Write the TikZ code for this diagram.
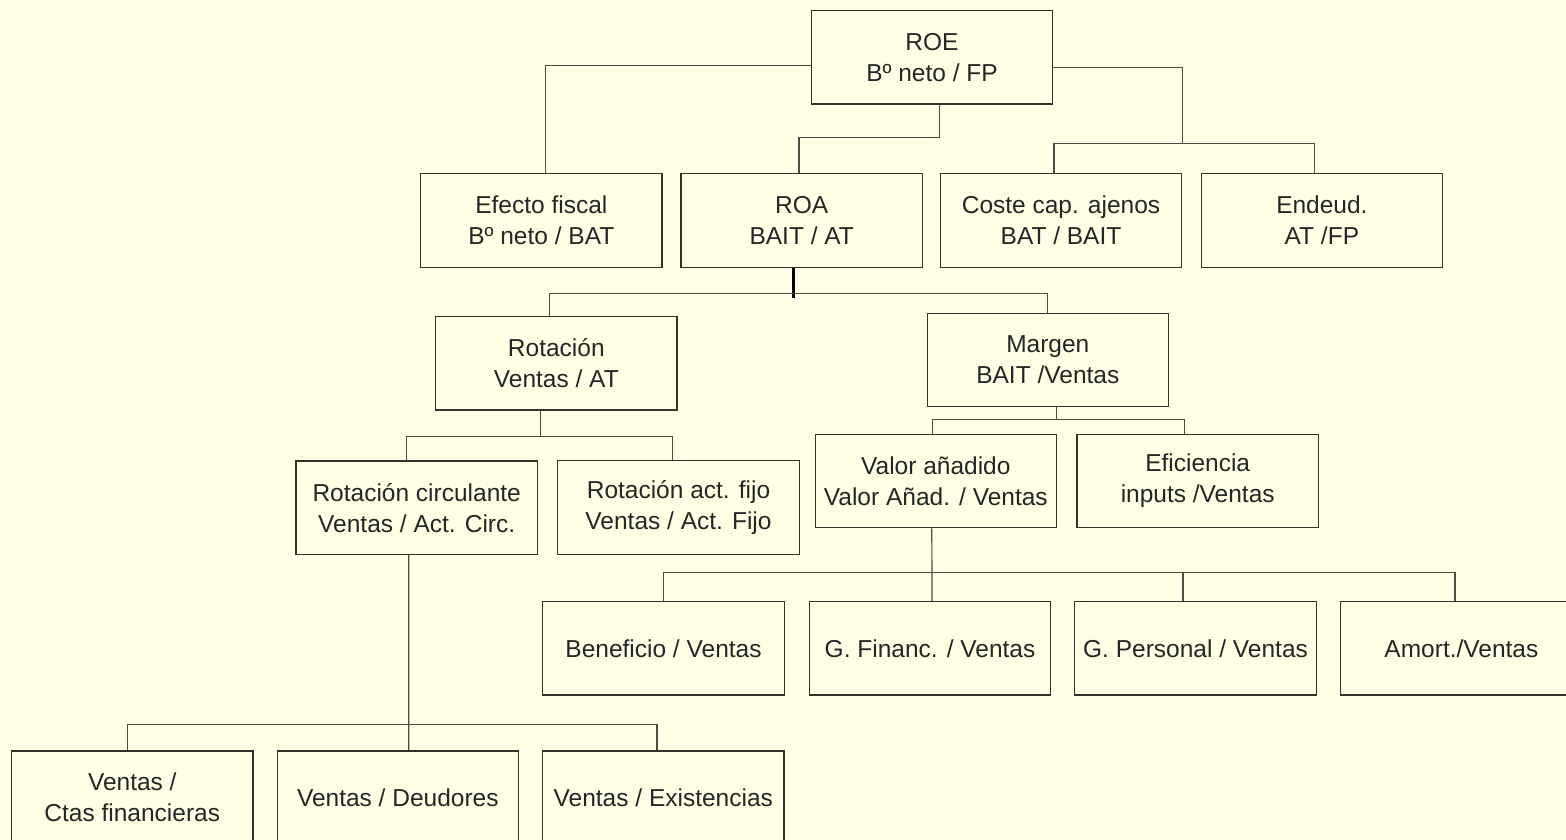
\documentclass[tikz,border=0pt]{standalone}
\usepackage{fontspec}
\setmainfont{Liberation Sans}
\usepackage{xcolor}
\usetikzlibrary{calc}
\definecolor{papel}{RGB}{255,255,229}
\definecolor{linea}{RGB}{75,75,70}
\definecolor{borde}{RGB}{50,50,45}
\tikzset{
  caja/.style={draw=borde, line width=1.2pt, fill=papel, minimum width=241.3pt,
    minimum height=93.3pt, inner sep=0pt, align=center, text=black!85,
    font=\fontsize{24.5}{31}\selectfont},
  rama/.style={draw=linea, line width=1.2pt},
}

\begin{document}
\begin{tikzpicture}[x=1pt,y=-1pt]
\useasboundingbox (0,0) rectangle (1566,840);
\fill[papel] (0,0) rectangle (1566,840);
\clip (0,0) rectangle (1566,840);

% ROE y primer nivel
\node[caja] (roe) at (932,57.3) {ROE\\Bº neto / FP};
\node[caja] (efecto) at (541.3,220.5) {Efecto fiscal\\Bº neto / BAT};
\node[caja] (roa) at (801.7,220.5) {ROA\\BAIT / AT};
\node[caja] (coste) at (1061,220.5) {Coste cap. ajenos\\BAT / BAIT};
\node[caja] (endeud) at (1321.9,220.5) {Endeud.\\AT /FP};

\draw[rama] ([yshift=-8pt]roe.west) -| ([xshift=4.4pt]efecto.north);
\draw[rama] ([xshift=7.6pt]roe.south) -- ++(0,33) -| ([xshift=-2.7pt]roa.north);
\draw[rama] ([yshift=-10pt]roe.east) -| ([yshift=30pt]coste.north east);
\draw[rama] ([xshift=-7pt]coste.north) -- ++(0,-29.7) -| ([xshift=-7.5pt]endeud.north);

% ROA
\node[caja] (rot) at (556.3,363.3) {Rotación\\Ventas / AT};
\node[caja] (margen) at (1047.8,359.8) {Margen\\BAIT /Ventas};

\draw[line width=2.5pt, black] ([xshift=-8pt]roa.south) -- ++(0,30);
\draw[rama] ([xshift=-7pt]rot.north) -- ++(0,-22.7) -| (margen.north);

% Rotacion
\node[caja] (rotcirc) at (416.7,507.7) {Rotación circulante\\Ventas / Act. Circ.};
\node[caja] (rotfijo) at (678.5,507.5) {Rotación act. fijo\\Ventas / Act. Fijo};

\draw[rama] ([xshift=-16pt]rot.south) -- ++(0,26.7);
\draw[rama] ([xshift=-10pt]rotcirc.north) -- ++(0,-24.3) -| ([xshift=-6pt]rotfijo.north);

% Margen
\node[caja] (valor) at (935.8,481) {Valor añadido\\Valor Añad. / Ventas};
\node[caja] (efic) at (1197.7,481) {Eficiencia\\inputs /Ventas};

\draw[rama] ([xshift=9pt]margen.south) -- ++(0,13.3);
\draw[rama] ([xshift=-3pt]valor.north) -- ++(0,-14) -| ([xshift=-13.5pt]efic.north);

% Valor añadido
\node[caja] (benef) at (663.5,648.3) {Beneficio / Ventas};
\node[caja] (gfin) at (930,648.3) {G. Financ. / Ventas};
\node[caja] (gpers) at (1195.5,648.3) {G. Personal / Ventas};
\node[caja] (amort) at (1461.4,648.3) {Amort./Ventas};

\draw[rama] ([xshift=-4pt]valor.south) -- ([xshift=2pt]gfin.north);
\draw[rama] (benef.north) -- ++(0,-28.4) -| ([xshift=-6.4pt]amort.north);
\draw[rama] ([xshift=-12.5pt]gpers.north) -- ++(0,-28.4);

% Rotacion circulante
\node[caja] (ctas) at (132.3,797.6) {Ventas /\\Ctas financieras};
\node[caja] (deud) at (397.8,797.6) {Ventas / Deudores};
\node[caja] (exist) at (663.3,797.6) {Ventas / Existencias};

\draw[rama] ([xshift=-8pt]rotcirc.south) -- ([xshift=11pt]deud.north);
\draw[rama] ([xshift=-4.7pt]ctas.north) -- ++(0,-26) -| ([xshift=-6.3pt]exist.north);
\end{tikzpicture}
\end{document}
